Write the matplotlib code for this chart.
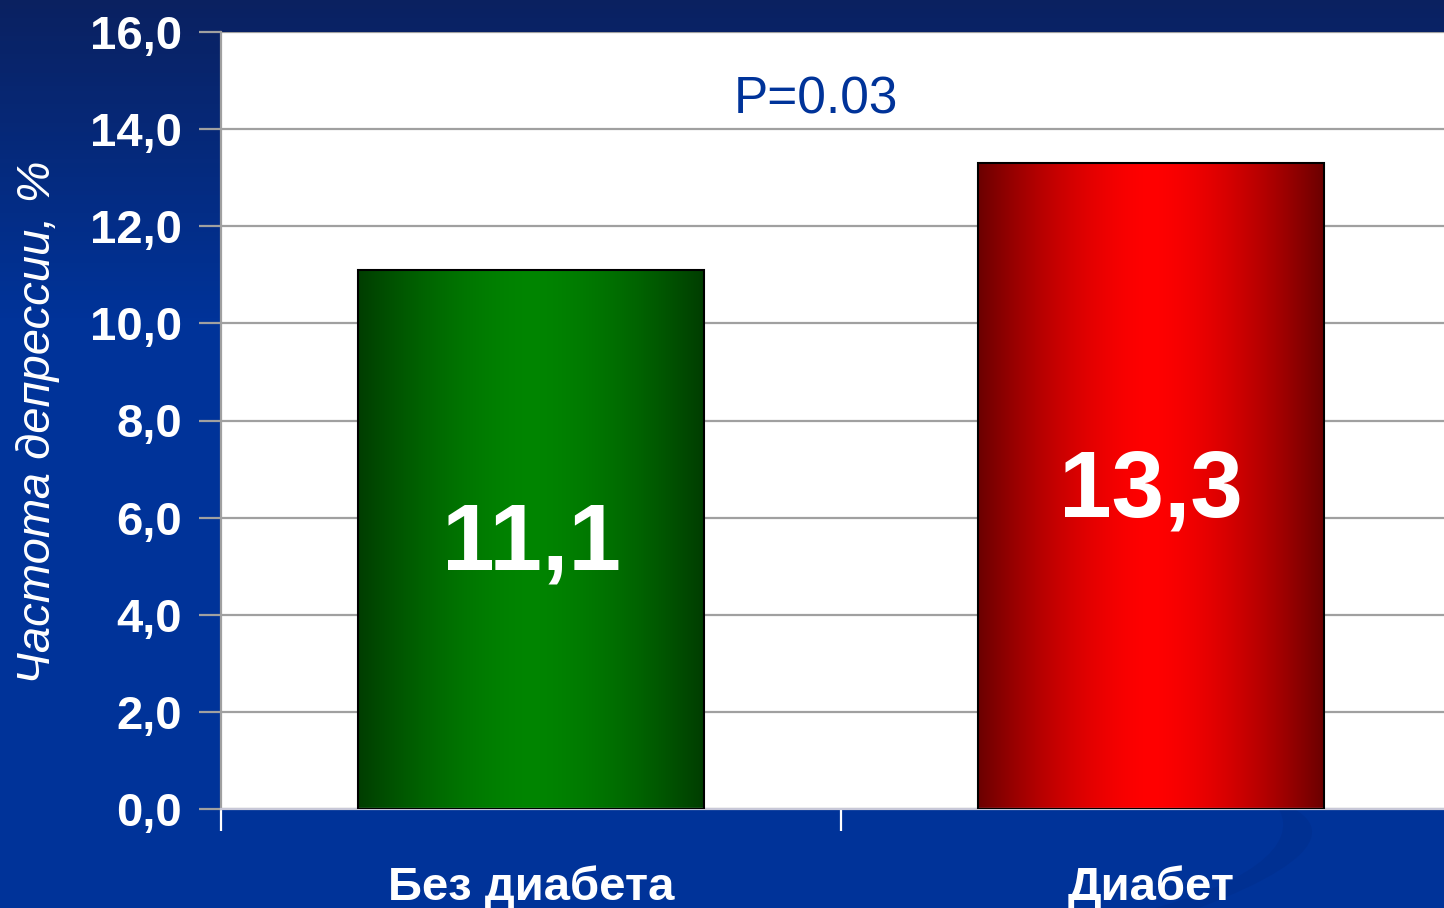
import numpy as np
import matplotlib.pyplot as plt
from matplotlib.patches import PathPatch
from matplotlib.path import Path

# Data
categories = ['Без диабета', 'Диабет']
values = [11.1, 13.3]
value_labels = ['11,1', '13,3']
yticks = [0, 2, 4, 6, 8, 10, 12, 14, 16]
ytick_labels = ['0,0', '2,0', '4,0', '6,0', '8,0', '10,0', '12,0', '14,0', '16,0']
p_text = 'P=0.03'
ylabel = 'Частота депрессии, %'

edge_cols = [(0.0, 0.24, 0.0), (0.42, 0.0, 0.0)]
mid_cols = [(0.0, 0.52, 0.0), (1.0, 0.0, 0.0)]

plt.rcParams['font.family'] = ['Liberation Sans', 'DejaVu Sans']

W, H = 1444, 908
fig = plt.figure(figsize=(W / 100, H / 100), dpi=100)

# background gradient (dark navy on top to blue)
bg = fig.add_axes([0, 0, 1, 1])
bg.set_axis_off()
t = np.linspace(0, 1, 200)[:, None]
top = np.array([0.04, 0.13, 0.38])
bot = np.array([0.0, 0.20, 0.60])
w = np.clip(t / 0.35, 0, 1)
grad = top * (1 - w[..., None]) + bot * w[..., None]
grad = np.repeat(grad, 2, axis=1)
bg.imshow(grad, extent=[0, 1, 0, 1], aspect='auto', origin='upper')
# faint swoosh bottom right
verts = [(0.83, 0.0), (0.93, 0.06), (0.92, 0.10), (0.88, 0.12),
         (0.90, 0.09), (0.89, 0.04), (0.80, 0.0), (0.83, 0.0)]
codes = [Path.MOVETO, Path.CURVE4, Path.CURVE4, Path.CURVE4,
         Path.CURVE4, Path.CURVE4, Path.CURVE4, Path.CLOSEPOLY]
bg.add_patch(PathPatch(Path(verts, codes), facecolor=(0.0, 0.17, 0.52),
                       edgecolor='none', alpha=0.35))
bg.set_xlim(0, 1)
bg.set_ylim(0, 1)

# main axes
x0, x1 = 221 / W, 1461 / W
y0, y1 = 1 - 809 / H, 1 - 32 / H
ax = fig.add_axes([x0, y0, x1 - x0, y1 - y0])
ax.set_facecolor('white')

xs = np.arange(len(categories)) + 0.5
bw = 0.558
ax.set_yticks(yticks)
ax.set_yticklabels(ytick_labels, color='white', fontsize=34, fontweight='bold')
ax.yaxis.grid(True, color='#a0a0a0', linewidth=1.6)
ax.set_axisbelow(True)
ax.tick_params(axis='y', length=16, width=1.6, color='#a0a0a0', pad=12)
ax.set_xticks([0, 1, 2])
ax.set_xticklabels([])
ax.tick_params(axis='x', length=16, width=1.6, color='white')
for s in ['top', 'right']:
    ax.spines[s].set_visible(False)
ax.spines['left'].set_color('#a0a0a0')
ax.spines['left'].set_linewidth(1.6)
ax.spines['bottom'].set_color('#c8c8d8')
ax.spines['bottom'].set_linewidth(1.6)

u = np.linspace(-1, 1, 256)
prof = np.abs(u) ** 1.6
for i, (xc, v) in enumerate(zip(xs, values)):
    e = np.array(edge_cols[i])
    m = np.array(mid_cols[i])
    row = m * (1 - prof[:, None]) + e * prof[:, None]
    img = np.repeat(row[None, :, :], 2, axis=0)
    ax.imshow(img, extent=[xc - bw / 2, xc + bw / 2, 0, v], aspect='auto',
              zorder=2, interpolation='bilinear')
    ax.bar(xc, v, width=bw, facecolor='none', edgecolor='black',
           linewidth=1.5, zorder=3)
    ax.text(xc, v / 2 - 0.12, value_labels[i], color='white', fontsize=68,
            fontweight='bold', ha='center', va='center', zorder=4)
    # category labels sit low, baseline near the bottom edge
    ax.text(xc, -1.87, categories[i], color='white', fontsize=34,
            fontweight='bold', ha='center', va='baseline', clip_on=False)

ax.set_xlim(0, 2)
ax.set_ylim(0, 16)
ax.text(1 - 25 / 620, 14.6, p_text, color='#003399', fontsize=37,
        ha='center', va='center')

fig.text(38 / W, 1 - 422 / H, ylabel, color='white', fontsize=34,
         style='italic', rotation=90, ha='center', va='center')

fig.savefig('out.png', dpi=100)
